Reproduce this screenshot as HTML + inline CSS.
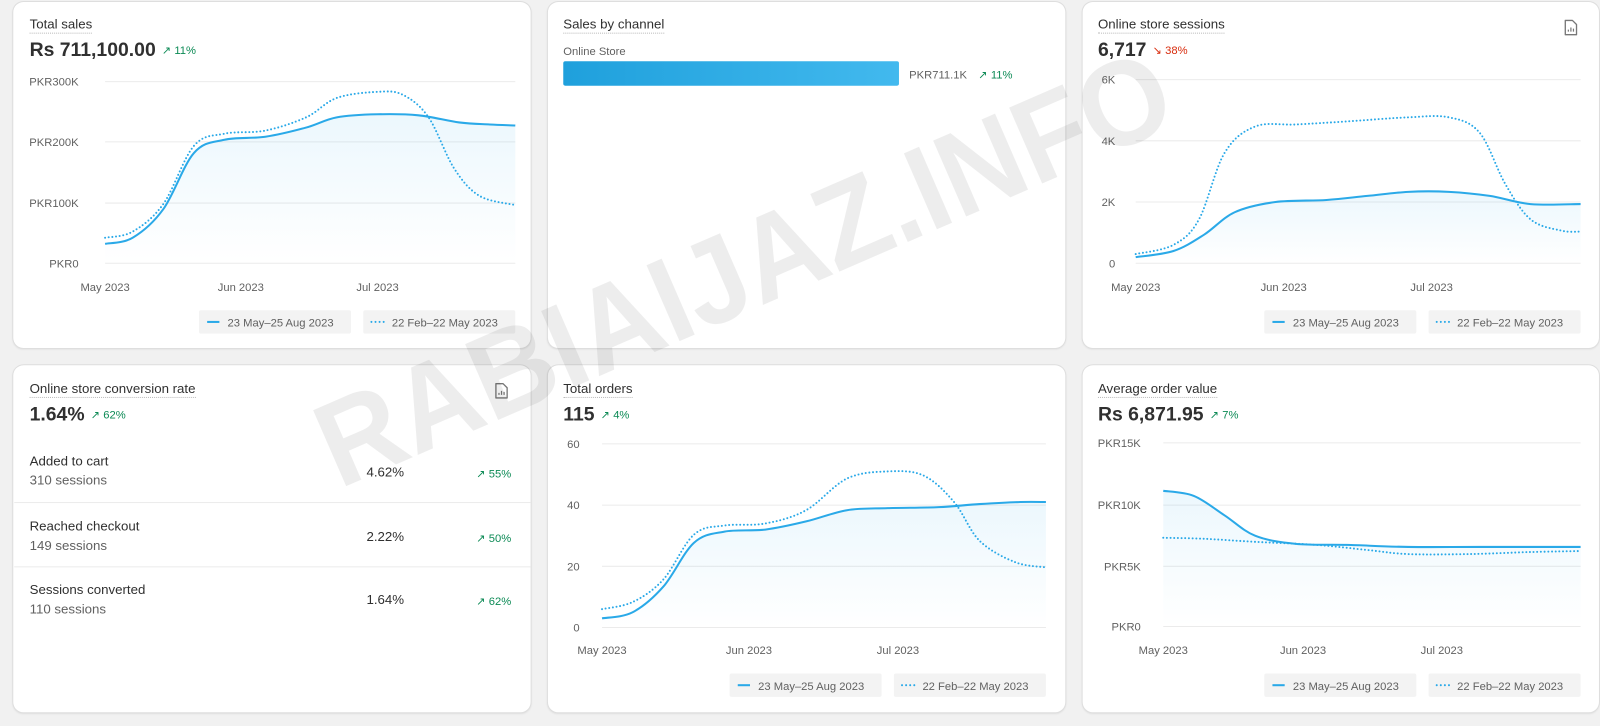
<!DOCTYPE html>
<html><head><meta charset="utf-8"><style>
html,body{margin:0;padding:0;width:1600px;height:725px;overflow:hidden;background:#f1f1f1;font-family:"Liberation Sans",sans-serif;}
#w{position:absolute;left:0;top:0;width:1568px;height:711px;transform:scale(1.0204);transform-origin:0 0;}
.card{position:absolute;background:#fff;border-radius:10px;box-shadow:0 0 0 1px #dedede,0 1px 2px rgba(0,0,0,.12);}
.t{position:absolute;font-size:13px;color:#303030;border-bottom:1px dotted #bbb;padding-bottom:1px;line-height:15px;}
.v{position:absolute;font-size:19px;font-weight:bold;color:#303030;line-height:22px;}
.g{color:#0c8a55;font-size:11px;font-weight:normal;margin-left:6px;vertical-align:2px;}
.r{color:#d82c0d;font-size:11px;font-weight:normal;margin-left:6px;vertical-align:2px;}
.ab{position:absolute;font-size:13px;color:#303030;line-height:16px;}
.sub{color:#616161;}
svg{position:absolute;left:0;top:0;}
</style></head><body><div id="w">
<div class="card" style="left:13px;top:2px;width:507px;height:339px"></div>
<div class="card" style="left:537px;top:2px;width:507px;height:339px"></div>
<div class="card" style="left:1061px;top:2px;width:506px;height:339px"></div>
<div class="card" style="left:13px;top:358px;width:507px;height:340px"></div>
<div class="card" style="left:537px;top:358px;width:507px;height:340px"></div>
<div class="card" style="left:1061px;top:358px;width:506px;height:340px"></div>

<div class="t" style="left:29px;top:16px">Total sales</div>
<div class="v" style="left:29px;top:39px">Rs 711,100.00<span class="g">↗ 11%</span></div>
<div class="t" style="left:552px;top:16px">Sales by channel</div>
<div class="ab sub" style="left:552px;top:43px;font-size:11px">Online Store</div>
<div style="position:absolute;left:552px;top:60px;width:329px;height:24px;border-radius:2px;background:linear-gradient(90deg,#1fa0dc,#42b9ee)"></div>
<div class="ab sub" style="left:891px;top:66px;font-size:11px">PKR711.1K <span class="g" style="margin-left:8px;vertical-align:0">↗ 11%</span></div>
<div class="t" style="left:1076px;top:16px">Online store sessions</div>
<div class="v" style="left:1076px;top:39px">6,717<span class="r">↘ 38%</span></div>

<div class="t" style="left:29px;top:373px">Online store conversion rate</div>
<div class="v" style="left:29px;top:396px">1.64%<span class="g">↗ 62%</span></div>
<div class="ab" style="left:29px;top:444px">Added to cart<br><span class="sub" style="line-height:22px">310 sessions</span></div>
<div class="ab" style="left:340px;top:455px;width:56px;text-align:right">4.62%</div>
<div class="ab" style="left:440px;top:456px;width:61px;text-align:right"><span class="g" style="vertical-align:0">↗ 55%</span></div>
<div style="position:absolute;left:14px;top:492px;width:506px;height:1px;background:#ebebeb"></div>
<div class="ab" style="left:29px;top:508px">Reached checkout<br><span class="sub" style="line-height:22px">149 sessions</span></div>
<div class="ab" style="left:340px;top:518px;width:56px;text-align:right">2.22%</div>
<div class="ab" style="left:440px;top:519px;width:61px;text-align:right"><span class="g" style="vertical-align:0">↗ 50%</span></div>
<div style="position:absolute;left:14px;top:555px;width:506px;height:1px;background:#ebebeb"></div>
<div class="ab" style="left:29px;top:570px">Sessions converted<br><span class="sub" style="line-height:22px">110 sessions</span></div>
<div class="ab" style="left:340px;top:580px;width:56px;text-align:right">1.64%</div>
<div class="ab" style="left:440px;top:581px;width:61px;text-align:right"><span class="g" style="vertical-align:0">↗ 62%</span></div>

<div class="t" style="left:552px;top:373px">Total orders</div>
<div class="v" style="left:552px;top:396px">115<span class="g">↗ 4%</span></div>
<div class="t" style="left:1076px;top:373px">Average order value</div>
<div class="v" style="left:1076px;top:396px">Rs 6,871.95<span class="g">↗ 7%</span></div>

<svg id="s" width="1568" height="711" viewBox="0 0 1568 711" font-family="Liberation Sans, sans-serif"></svg>
</div>
<script>
var s=document.getElementById('s'),h='';
h+='<defs><linearGradient id="fg" x1="0" y1="0" x2="0" y2="1"><stop offset="0" stop-color="#2aa9e8" stop-opacity="0.09"/><stop offset="1" stop-color="#2aa9e8" stop-opacity="0"/></linearGradient></defs>';
function cr(p){var d='M'+p[0][0]+','+p[0][1];for(var i=0;i<p.length-1;i++){var a=p[i-1]||p[i],b=p[i],c=p[i+1],e=p[i+2]||c;
d+=' C'+(b[0]+(c[0]-a[0])/6).toFixed(1)+','+(b[1]+(c[1]-a[1])/6).toFixed(1)+' '+(c[0]-(e[0]-b[0])/6).toFixed(1)+','+(c[1]-(e[1]-b[1])/6).toFixed(1)+' '+c[0]+','+c[1];}return d;}
function chart(o){var x0=o.x0,x1=o.x1;
o.grid.forEach(function(g){h+='<line x1="'+x0+'" x2="'+x1+'" y1="'+g[0]+'" y2="'+g[0]+'" stroke="#ebebeb" stroke-width="1"/>';
h+='<text x="'+o.lx+'" y="'+(g[0]+4)+'" font-size="11" fill="#616161" text-anchor="end">'+g[1]+'</text>';});
o.xl.forEach(function(x){h+='<text x="'+x[0]+'" y="'+o.xy+'" font-size="11" fill="#616161" text-anchor="middle">'+x[1]+'</text>';});
var base=o.grid[o.grid.length-1][0];var sd=cr(o.sol);
h+='<path d="'+sd+' L'+x1+','+base+' L'+x0+','+base+'Z" fill="url(#fg)"/>';
h+='<path d="'+cr(o.dot)+'" fill="none" stroke="#2aa9e8" stroke-width="2" stroke-dasharray="0 3.6" stroke-linecap="round"/>';
h+='<path d="'+sd+'" fill="none" stroke="#2aa9e8" stroke-width="2"/>';
var ly=o.ly,r=o.cr;
h+='<rect x="'+(r-310)+'" y="'+ly+'" width="149" height="23" fill="#f3f3f3" rx="2"/><rect x="'+(r-149)+'" y="'+ly+'" width="149" height="23" fill="#f3f3f3" rx="2"/>';
h+='<line x1="'+(r-302)+'" x2="'+(r-290)+'" y1="'+(ly+11.5)+'" y2="'+(ly+11.5)+'" stroke="#2aa9e8" stroke-width="2"/>';
h+='<line x1="'+(r-141)+'" x2="'+(r-128)+'" y1="'+(ly+11.5)+'" y2="'+(ly+11.5)+'" stroke="#2aa9e8" stroke-width="2" stroke-dasharray="0 4" stroke-linecap="round"/>';
h+='<text x="'+(r-282)+'" y="'+(ly+16)+'" font-size="11" fill="#616161">23 May–25 Aug 2023</text>';
h+='<text x="'+(r-121)+'" y="'+(ly+16)+'" font-size="11" fill="#616161">22 Feb–22 May 2023</text>';}
chart({x0:103,x1:505,lx:77,grid:[[80,'PKR300K'],[139,'PKR200K'],[199,'PKR100K'],[258,'PKR0']],xy:285,xl:[[103,'May 2023'],[236,'Jun 2023'],[370,'Jul 2023']],ly:304,cr:505,
sol:[[103,239],[130,233],[160,205],[190,150],[220,137],[260,134],[300,125],[330,115],[370,112],[410,113],[450,120],[480,122],[505,123]],
dot:[[103,233],[130,227],[160,200],[190,143],[220,131],[260,128],[300,115],[330,96],[370,90],[395,93],[420,115],[445,165],[470,192],[505,201]]});
chart({x0:1113,x1:1549,lx:1093,grid:[[78,'6K'],[138,'4K'],[198,'2K'],[258,'0']],xy:285,xl:[[1113,'May 2023'],[1258,'Jun 2023'],[1403,'Jul 2023']],ly:304,cr:1549,
sol:[[1113,252],[1150,246],[1180,230],[1210,208],[1250,198],[1300,196],[1340,192],[1380,188],[1420,188],[1460,192],[1500,200],[1549,200]],
dot:[[1113,249],[1150,240],[1175,215],[1200,150],[1230,124],[1270,122],[1320,119],[1380,115],[1420,115],[1450,130],[1475,180],[1500,215],[1530,226],[1549,227]]});
chart({x0:590,x1:1025,lx:568,grid:[[435,'60'],[495,'40'],[555,'20'],[615,'0']],xy:641,xl:[[590,'May 2023'],[734,'Jun 2023'],[880,'Jul 2023']],ly:660,cr:1025,
sol:[[590,606],[620,600],[650,575],[680,532],[710,521],[750,519],[790,511],[830,500],[870,498],[920,497],[960,494],[1000,492],[1025,492]],
dot:[[590,597],[620,590],[650,568],[680,524],[710,515],[750,513],[790,500],[830,469],[870,462],[905,466],[935,492],[960,530],[995,551],[1025,556]]});
chart({x0:1140,x1:1549,lx:1118,grid:[[434,'PKR15K'],[495,'PKR10K'],[555,'PKR5K'],[614,'PKR0']],xy:641,xl:[[1140,'May 2023'],[1277,'Jun 2023'],[1413,'Jul 2023']],ly:660,cr:1549,
sol:[[1140,481],[1170,486],[1200,505],[1230,525],[1270,533],[1320,534],[1380,536],[1450,536],[1549,536]],
dot:[[1140,527],[1180,528],[1230,531],[1290,534],[1340,539],[1380,543],[1440,543],[1500,541],[1549,540]]});
function ic(x,y){h+='<path d="M'+x+','+y+' h7 l4,4 v10 h-11z" fill="none" stroke="#777" stroke-width="1.3" stroke-linejoin="round"/><path d="M'+(x+3)+','+(y+11)+' v-2 M'+(x+5.5)+','+(y+11)+' v-4 M'+(x+8)+','+(y+11)+' v-3" stroke="#777" stroke-width="1.2"/>';}
ic(1534,20);ic(486,376);
h+='<text x="0" y="0" transform="translate(745,300) rotate(-23.5)" text-anchor="middle" font-size="118" font-weight="bold" fill="#000" fill-opacity="0.07" textLength="900" lengthAdjust="spacingAndGlyphs">RABIAIJAZ.INFO</text>';
s.innerHTML=h;
</script>
</body></html>
